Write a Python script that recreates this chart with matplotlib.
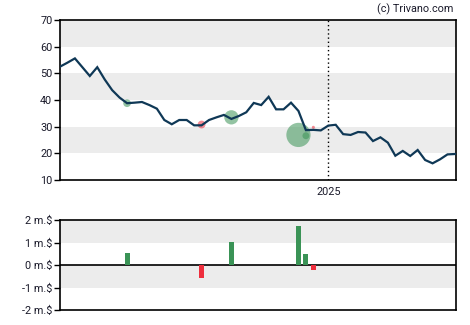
import numpy as np
import pandas as pd
import matplotlib
matplotlib.use("Agg")
import matplotlib.pyplot as plt

plt.rcParams['font.family'] = ['Roboto', 'DejaVu Sans']

# Weekly closing prices
start_date = "2024-04-24"
prices = [52.5, 54.0, 55.6, 52.3, 49.0, 52.3, 47.7, 43.7, 40.9, 38.8,
          39.0, 39.25, 38.1, 36.75, 32.5, 30.9, 32.5, 32.5, 30.5, 30.5,
          32.5, 33.5, 34.4, 32.9, 34.0, 35.4, 38.9, 38.1, 41.2, 36.5,
          36.5, 39.0, 35.9, 28.7, 28.8, 28.6, 30.4, 30.7, 27.2, 26.9,
          28.0, 27.8, 24.6, 26.0, 24.0, 19.1, 20.9, 19.0, 21.25, 17.5,
          16.25, 17.75, 19.6, 19.75]
dates = pd.date_range(start_date, periods=len(prices), freq="7D")

# Insider transactions: date, trade price, net value (million $)
trade_dates = pd.to_datetime(["2024-06-26", "2024-09-04", "2024-10-02",
                              "2024-12-04", "2024-12-11", "2024-12-18"])
trade_prices = [38.8, 30.8, 33.5, 26.9, 26.6, 29.75]
trade_values = [0.55, -0.56, 1.02, 1.73, 0.49, -0.22]

x_start = pd.Timestamp("2024-04-24")
x_end = pd.Timestamp("2025-05-01")
year_mark = pd.Timestamp("2025-01-01")

price_ticks = [10, 20, 30, 40, 50, 60, 70]
value_ticks = [-2, -1, 0, 1, 2]
value_labels = ["-2 m.$", "-1 m.$", "0 m.$", "1 m.$", "2 m.$"]

GREEN = "#3a9356"
RED = "#ee2e3d"
LINE = "#0f3856"
BAND = "#ececec"
TXT = "#1a1a2a"

fig = plt.figure(figsize=(4.7, 3.25), dpi=100)
ax = fig.add_axes([60/470, 1-180/325, 396/470, 160/325])
axb = fig.add_axes([60/470, 1-310/325, 396/470, 90/325])

for a in (ax, axb):
    for s in a.spines.values():
        s.set_linewidth(1.2)
        s.set_color("black")
    a.set_xlim(x_start, x_end)
    a.tick_params(axis="y", length=4, width=1, labelsize=7.8, labelcolor=TXT, pad=1.5)

# price panel
for lo in (20, 40, 60):
    ax.axhspan(lo, lo + 10, color=BAND, lw=0, zorder=0)
ax.set_ylim(10, 70)
ax.set_yticks(price_ticks)
ax.axvline(year_mark, color="black", ls=(0, (1, 2)), lw=1, zorder=1)
ax.plot(dates, prices, color=LINE, lw=1.6, zorder=3, solid_joinstyle="miter")

sizes = [(2 * 7 * abs(v) * 0.72) ** 2 for v in trade_values]
colors = [GREEN if v > 0 else RED for v in trade_values]
ax.scatter(trade_dates, trade_prices, s=sizes, c=colors, alpha=0.55, lw=0, zorder=2)

ax.set_xticks([year_mark])
ax.set_xticklabels(["2025"])
ax.tick_params(axis="x", length=0, labelsize=7.8, labelcolor=TXT, pad=5)

# transaction value panel
axb.axhspan(1, 2, color=BAND, lw=0, zorder=0)
axb.axhspan(-1, 0, color=BAND, lw=0, zorder=0)
axb.set_ylim(-2, 2)
axb.set_yticks(value_ticks)
axb.set_yticklabels(value_labels)
axb.axhline(0, color="black", lw=1.2, zorder=2)
axb.bar(trade_dates, trade_values, width=4.7, color=colors, zorder=3)
axb.set_xticks([])

fig.text(453/470, 1-9/325, "(c) Trivano.com", ha="right", va="center",
         fontsize=7.8, color=TXT)

fig.savefig("out.png", dpi=100)
